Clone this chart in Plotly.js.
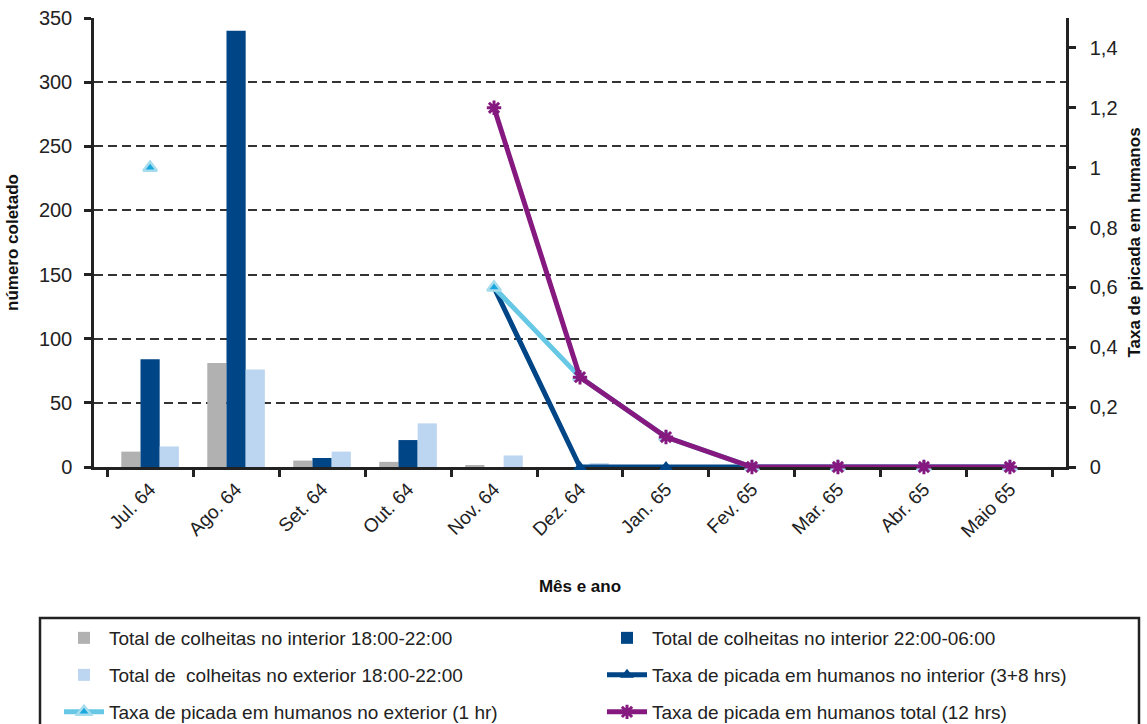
<!DOCTYPE html>
<html>
<head>
<meta charset="utf-8">
<script src="https://cdn.plot.ly/plotly-3.0.1.min.js"></script>
<style>html,body{margin:0;padding:0;background:#fff;}#chart{width:1147px;height:724px;}</style>
</head>
<body>
<div id="chart"></div>
<script>
const months = ["Jul. 64","Ago. 64","Set. 64","Out. 64","Nov. 64","Dez. 64","Jan. 65","Fev. 65","Mar. 65","Abr. 65","Maio 65"];
const interior1822 = [12, 81, 5, 4, 1, 0, 0, 0, 0, 0, 0];
const interior2206 = [84, 340, 7, 21, 0, 0, 0, 0, 0, 0, 0];
const exterior1822 = [16, 76, 12, 34, 9, 3, 0, 0, 0, 0, 0];
const rateInterior = [null, null, null, null, 0.6, 0, 0, 0, 0, 0, 0];
const rateExterior = [1.0, null, null, null, 0.6, 0.3, 0.1, 0, 0, 0, 0];
const rateTotal = [null, null, null, null, 1.2, 0.3, 0.1, 0, 0, 0, 0];

const seriesNames = [
  "Total de colheitas no interior 18:00-22:00",
  "Total de colheitas no interior 22:00-06:00",
  "Total de  colheitas no exterior 18:00-22:00",
  "Taxa de picada em humanos no interior (3+8 hrs)",
  "Taxa de picada em humanos no exterior (1 hr)",
  "Taxa de picada em humanos total (12 hrs)"
];

const C_GRAY = "#b1b1b1", C_DARK = "#004586", C_LIGHT = "#bcd5f0", C_CYAN = "#66c8e4", C_PURPLE = "#85197f";

const traces = [
  {type: "bar", name: seriesNames[0], legend: "legend", x: months, y: interior1822, marker: {color: C_GRAY}},
  {type: "bar", name: seriesNames[1], legend: "legend2", x: months, y: interior2206, marker: {color: C_DARK}},
  {type: "bar", name: seriesNames[2], legend: "legend3", x: months, y: exterior1822, marker: {color: C_LIGHT}},
  {type: "scatter", mode: "lines+markers", name: seriesNames[3], legend: "legend4", x: months, y: rateInterior, yaxis: "y2",
   line: {color: C_DARK, width: 5}, marker: {symbol: "triangle-up", size: 12, color: C_DARK}, cliponaxis: false},
  {type: "scatter", mode: "lines+markers", name: seriesNames[4], legend: "legend5", x: months, y: rateExterior, yaxis: "y2",
   line: {color: C_CYAN, width: 5}, marker: {symbol: "triangle-up", size: 12, color: "#1aa7e0", line: {color: "#a6dcec", width: 2.5}}, cliponaxis: false},
  {type: "scatter", mode: "lines+markers", name: seriesNames[5], legend: "legend6", x: months, y: rateTotal, yaxis: "y2",
   line: {color: C_PURPLE, width: 5}, marker: {symbol: "asterisk-open", size: 12, color: C_PURPLE, line: {color: C_PURPLE, width: 3}}, cliponaxis: false}
];

const legendFont = {family: "Liberation Sans, Arial, sans-serif", size: 19, color: "#222"};
const tickFont = {family: "Liberation Sans, Arial, sans-serif", size: 20, color: "#222"};
const titleFont = {family: "Liberation Sans Narrow, Arial Narrow, sans-serif", size: 17, color: "#111", weight: "bold"};

function leg(xp, yc) {
  return {orientation: "h", x: xp, xanchor: "left", y: yc, yref: "container", yanchor: "middle",
    borderwidth: 0, bgcolor: "rgba(0,0,0,0)", font: legendFont, itemwidth: 40};
}
// plot area: x 94..1066, y 18..467 (449 px)
const colX = [(59 - 94) / 972, (602 - 94) / 972];
const rowY = [1 - 638 / 724, 1 - 675 / 724, 1 - 712 / 724];

const layout = {
  width: 1147, height: 724,
  margin: {l: 94, r: 81, t: 18, b: 257},
  paper_bgcolor: "#fff", plot_bgcolor: "#fff",
  separators: ",.",
  barmode: "group", bargap: 0.33, bargroupgap: 0,
  showlegend: true,
  legend: leg(colX[0], rowY[0]),
  legend2: leg(colX[1], rowY[0]),
  legend3: leg(colX[0], rowY[1]),
  legend4: leg(colX[1], rowY[1]),
  legend5: leg(colX[0], rowY[2]),
  legend6: leg(colX[1], rowY[2]),
  shapes: [{type: "rect", xref: "paper", yref: "paper", x0: (40 - 94) / 972, x1: (1139 - 94) / 972,
    y0: (467 - 618) / 449, y1: (467 - 760) / 449, line: {color: "#222", width: 2.5}, fillcolor: "rgba(0,0,0,0)", layer: "below"}],
  xaxis: {type: "category", tickangle: -45, tickfont: {family: "Liberation Sans, Arial, sans-serif", size: 19, color: "#222"},
    showline: true, linecolor: "#222", linewidth: 2.5, ticks: "outside", tickson: "boundaries", ticklen: 7, tickwidth: 2.5, tickcolor: "#222",
    ticklabelstandoff: 1, layer: "below traces",
    showgrid: false, zeroline: false,
    title: {text: "Mês e ano", font: titleFont, standoff: 40}},
  yaxis: {range: [0, 350], dtick: 50, tickfont: tickFont, showline: true, linecolor: "#222", linewidth: 2.5,
    ticks: "outside", ticklen: 7, tickwidth: 2.5, tickcolor: "#222", ticklabelstandoff: 8,
    showgrid: true, gridcolor: "#333", griddash: "9px,5px", gridwidth: 1.5, zeroline: false,
    title: {text: "número coletado", font: titleFont, standoff: 16}},
  yaxis2: {overlaying: "y", side: "right", range: [0, 1.5], tickvals: [0, 0.2, 0.4, 0.6, 0.8, 1, 1.2, 1.4],
    tickfont: tickFont, showline: true, linecolor: "#222", linewidth: 2.5,
    ticks: "outside", ticklen: 7, tickwidth: 2.5, tickcolor: "#222", ticklabelstandoff: 10, showgrid: false, zeroline: false,
    title: {text: "Taxa de picada em humanos", font: titleFont, standoff: 12}}
};

Plotly.newPlot("chart", traces, layout, {displayModeBar: false});
</script>
</body>
</html>
